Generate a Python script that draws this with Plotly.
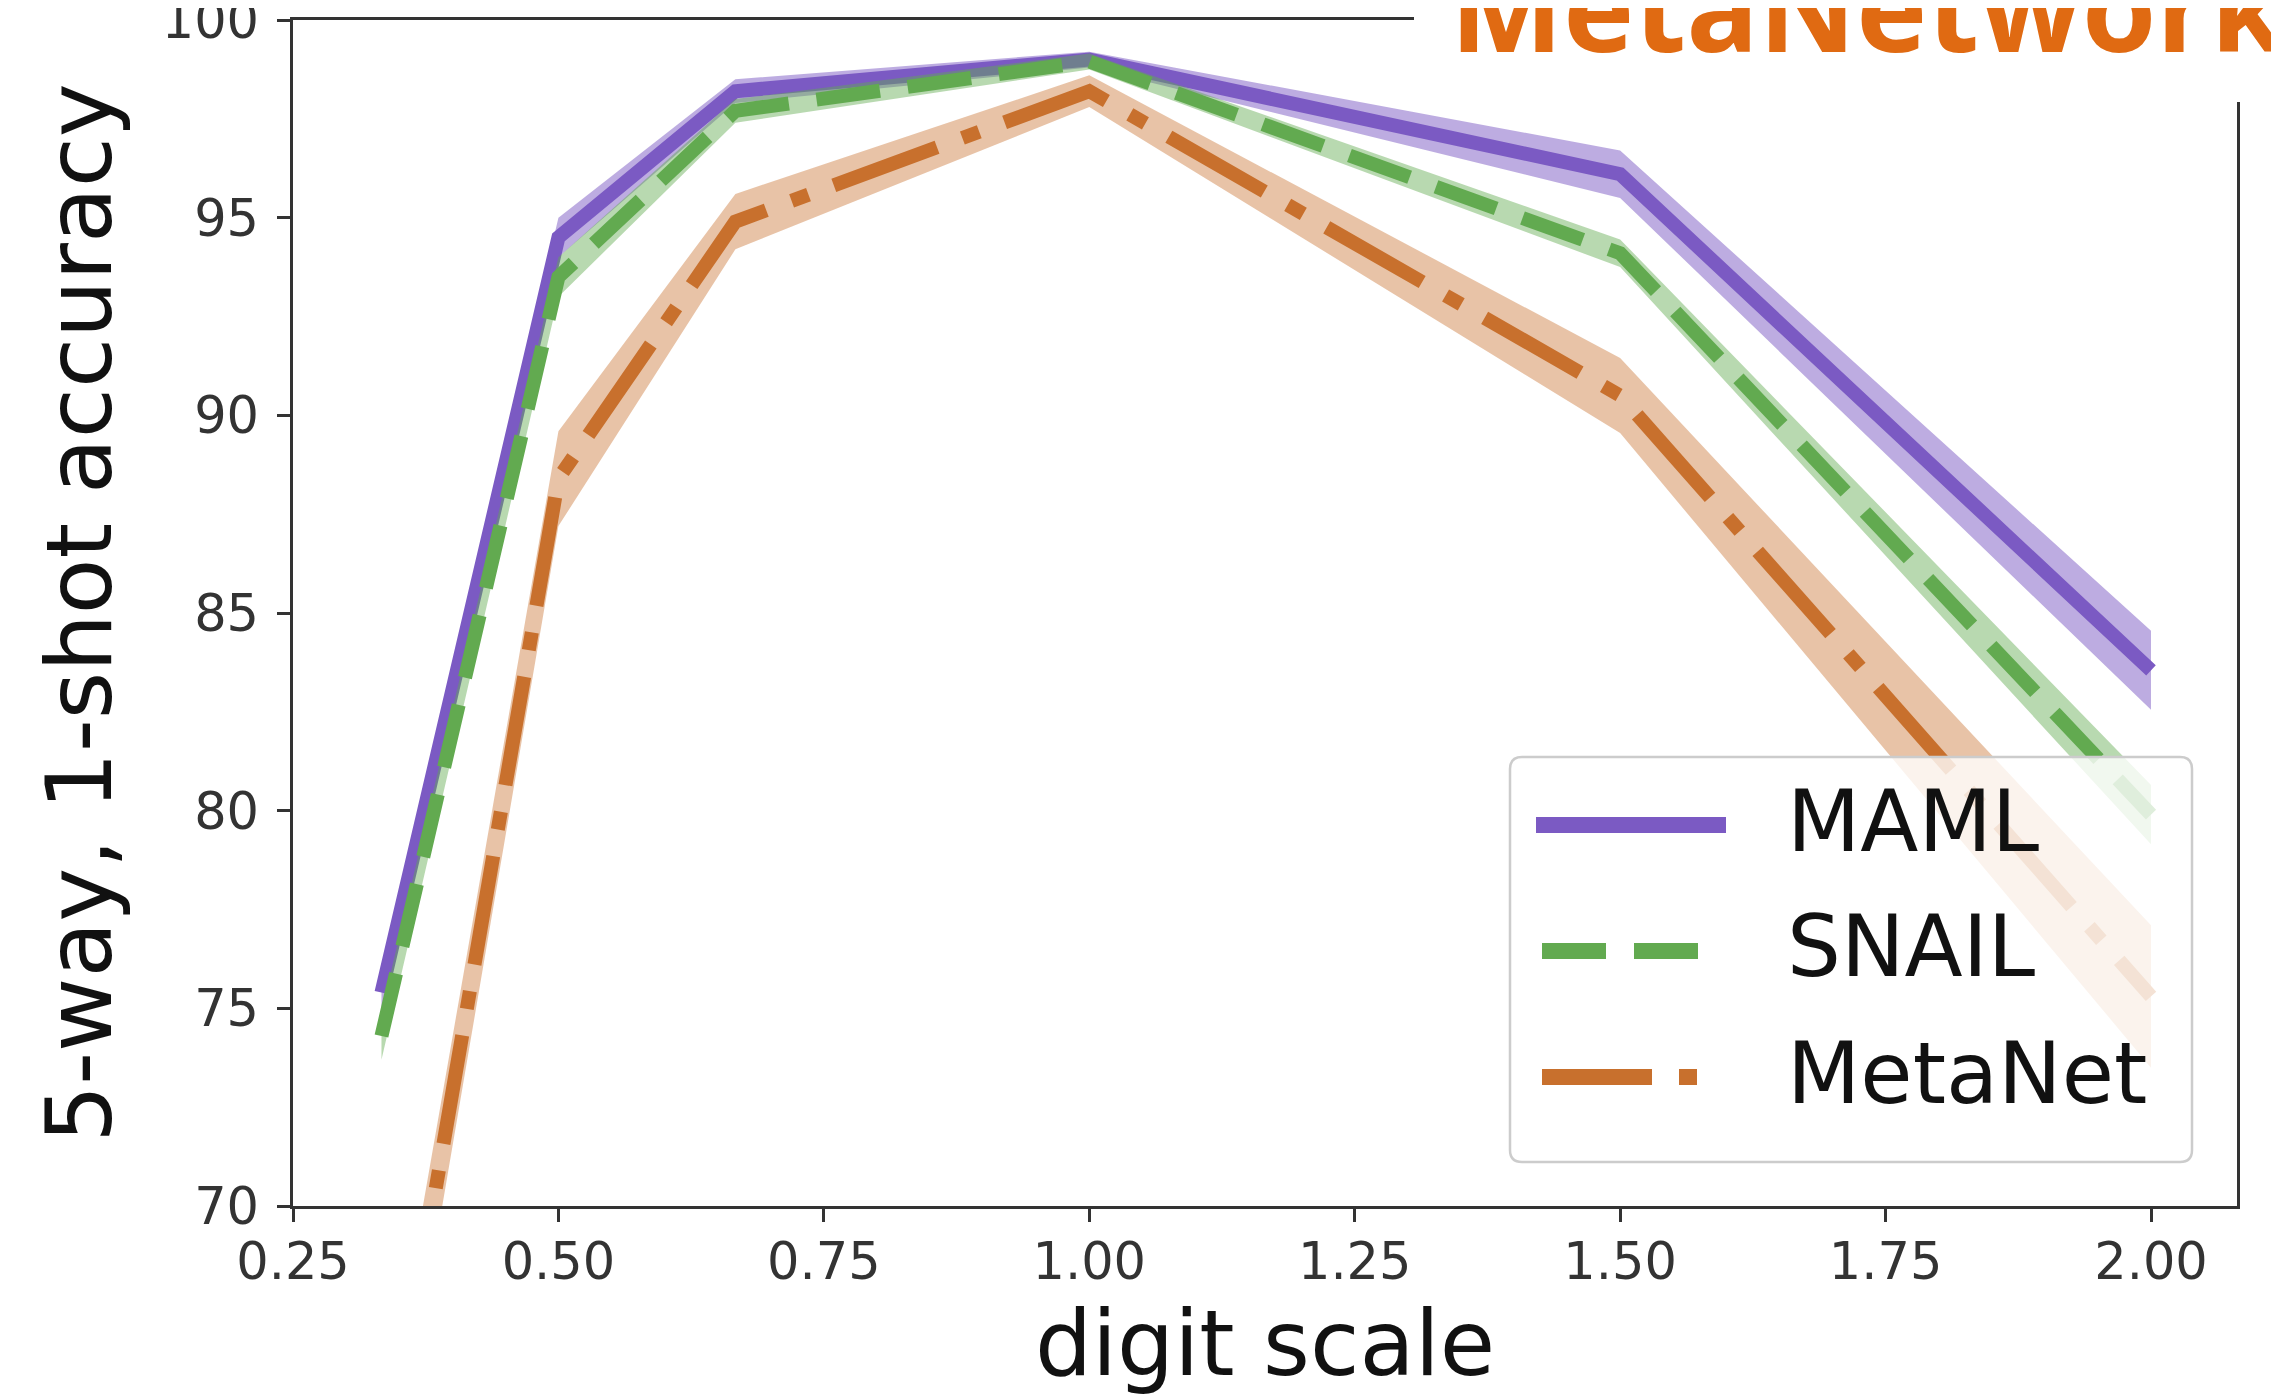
import plotly.graph_objects as go

# ---- data ----
digit_scale = [1/3, 0.5, 2/3, 1.0, 1.5, 2.0]
maml = [75.4, 94.5, 98.2, 99.0, 96.1, 83.55]
maml_err = [0.6, 0.5, 0.3, 0.2, 0.6, 1.0]
snail = [74.3, 93.5, 97.7, 98.95, 94.1, 79.9]
snail_err = [0.6, 0.5, 0.3, 0.2, 0.35, 0.75]
metanet = [62.5, 88.4, 94.9, 98.2, 90.5, 75.3]
metanet_err = [1.5, 1.2, 0.7, 0.4, 0.95, 1.8]

series_names = ["MAML", "SNAIL", "MetaNet"]
x_tick_vals = [0.25, 0.5, 0.75, 1.0, 1.25, 1.5, 1.75, 2.0]
x_tick_text = ["0.25", "0.50", "0.75", "1.00", "1.25", "1.50", "1.75", "2.00"]
y_tick_vals = [70, 75, 80, 85, 90, 95, 100]

# ---- styles ----
W, H = 2279, 1395
OFF = 8                      # page body margin in the browser
PLOT_L, PLOT_R, PLOT_T, PLOT_B = 293, 2237, 20, 1206   # page pixels of the plot area
ML, MT = PLOT_L - OFF, PLOT_T - OFF
MR, MB = W - (PLOT_R - OFF), H - (PLOT_B - OFF)
PW, PH = PLOT_R - PLOT_L, PLOT_B - PLOT_T

colors = {"MAML": "rgb(123,90,195)", "SNAIL": "rgb(98,170,80)", "MetaNet": "rgb(200,112,45)"}
fills = {"MAML": "rgba(123,90,195,0.5)", "SNAIL": "rgba(98,170,80,0.45)", "MetaNet": "rgba(200,112,45,0.42)"}
dashes = {"MAML": "solid", "SNAIL": "64px,28px", "MetaNet": "110px,27px,18px,27px"}
LW = 14
FONT = "DejaVu Sans"


def px(xp):
    return (xp - PLOT_L) / PW


def py(yp):
    return (PLOT_B - yp) / PH


fig = go.Figure()
for name, vals, errs in [("MAML", maml, maml_err), ("SNAIL", snail, snail_err), ("MetaNet", metanet, metanet_err)]:
    upper = [v + e for v, e in zip(vals, errs)]
    lower = [v - e for v, e in zip(vals, errs)]
    fig.add_trace(go.Scatter(x=digit_scale, y=upper, mode="lines", line=dict(width=0),
                             showlegend=False, hoverinfo="skip"))
    fig.add_trace(go.Scatter(x=digit_scale, y=lower, mode="lines", line=dict(width=0),
                             fill="tonexty", fillcolor=fills[name], showlegend=False, hoverinfo="skip"))
    fig.add_trace(go.Scatter(x=digit_scale, y=vals, mode="lines", name=name,
                             line=dict(color=colors[name], width=LW, dash=dashes[name]),
                             showlegend=False))

axis_common = dict(
    showline=True, linecolor="#333333", linewidth=2.5, mirror=True,
    ticks="outside", ticklen=13, tickwidth=2.5, tickcolor="#333333",
    showgrid=False, zeroline=False, automargin=False, ticklabeloverflow="allow",
    tickfont=dict(family=FONT, size=51, color="#333333"),
)

fig.update_layout(
    width=W, height=H,
    margin=dict(l=ML, r=MR, t=MT, b=MB),
    paper_bgcolor="white", plot_bgcolor="white",
    showlegend=False,
    xaxis=dict(range=[0.25, 2.081], tickvals=x_tick_vals, ticktext=x_tick_text, ticklabelstandoff=-4,
               title=dict(text="digit scale", font=dict(family=FONT, size=90, color="#111111"), standoff=6),
               **axis_common),
    yaxis=dict(range=[70, 100], tickvals=y_tick_vals, ticklabelstandoff=8,
               title=dict(text="5-way, 1-shot accuracy", font=dict(family=FONT, size=91, color="#111111"), standoff=20),
               **axis_common),
)

# white cover over the top-right corner (where the heading sits)
fig.add_shape(type="rect", xref="paper", yref="paper",
              x0=px(1414), x1=px(W + 40), y0=py(102), y1=py(-30),
              fillcolor="white", line=dict(width=0), layer="above")

fig.add_annotation(text="<b>MetaNetwork</b>", xref="paper", yref="paper",
                   x=px(1448), y=py(6), xanchor="left", yanchor="middle", showarrow=False,
                   font=dict(family="Open Sans", size=120, color="rgb(224,106,18)"))

# ---- legend drawn by hand (matplotlib-style rounded box) ----
lx0, lx1, ly0, ly1, r = 1510, 2192, 757, 1162, 12
rx, ry = r / PW, r / PH
X0, X1, Y0, Y1 = px(lx0), px(lx1), py(ly1), py(ly0)
path = (f"M{X0+rx},{Y0} L{X1-rx},{Y0} Q{X1},{Y0} {X1},{Y0+ry} L{X1},{Y1-ry} Q{X1},{Y1} {X1-rx},{Y1} "
        f"L{X0+rx},{Y1} Q{X0},{Y1} {X0},{Y1-ry} L{X0},{Y0+ry} Q{X0},{Y0} {X0+rx},{Y0} Z")
fig.add_shape(type="path", path=path, xref="paper", yref="paper",
              fillcolor="rgba(255,255,255,0.8)", line=dict(color="#cccccc", width=2.5), layer="above")

leg_y = {"MAML": 825, "SNAIL": 951, "MetaNet": 1077}
leg_x = {"MAML": (1536, 1726), "SNAIL": (1542, 1700), "MetaNet": (1542, 1700)}
for name in series_names:
    fig.add_shape(type="line", xref="paper", yref="paper",
                  x0=px(leg_x[name][0]), x1=px(leg_x[name][1]), y0=py(leg_y[name]), y1=py(leg_y[name]),
                  line=dict(color=colors[name], width=16, dash=dashes[name]), layer="above")
    fig.add_annotation(text=name, xref="paper", yref="paper", x=px(1785), y=py(leg_y[name] - 4),
                       xanchor="left", yanchor="middle", showarrow=False,
                       font=dict(family=FONT, size=85, color="#111111"))

fig.write_html("out.html")
